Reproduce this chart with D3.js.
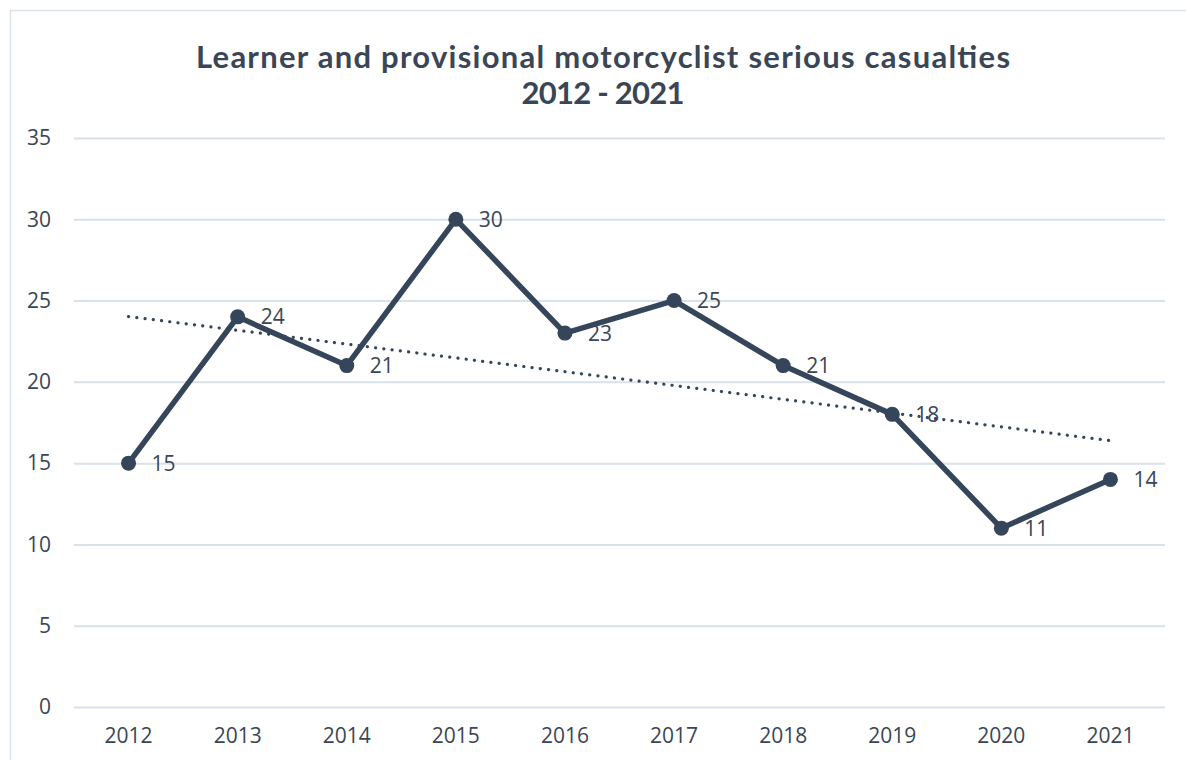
<!DOCTYPE html>
<html>
<head>
<meta charset="utf-8">
<script src="https://cdn.jsdelivr.net/npm/d3@7"></script>
<style>
  body { margin: 0; background: #fff; }
  svg { display: block; }
</style>
</head>
<body>
<svg id="chart"></svg>
<script>
// datos del gráfico
const anios = ["2012", "2013", "2014", "2015", "2016", "2017", "2018", "2019", "2020", "2021"];
const victimas = [15, 24, 21, 30, 23, 25, 21, 18, 11, 14];
const ticksY = [0, 5, 10, 15, 20, 25, 30, 35];
const titulo = ["Learner and provisional motorcyclist serious casualties", "2012 - 2021"];

const WIDTH = 1186;
const HEIGHT = 760;
const margins = { top: 138, bottom: 53, left: 74, right: 21 };
const colorOscuro = "#36465a";
const colorTexto = "#3a4656";

const svg = d3.select("#chart")
    .attr("width", WIDTH)
    .attr("height", HEIGHT);

// borde del área del gráfico
svg.append("rect")
    .attr("x", 10.5).attr("y", 10.5)
    .attr("width", WIDTH).attr("height", HEIGHT)
    .attr("fill", "none")
    .attr("stroke", "#d9e1ea")
    .attr("stroke-width", 1.5);

const escalaX = d3.scaleBand()
    .domain(anios)
    .range([margins.left, WIDTH - margins.right]);

const escalaY = d3.scaleLinear()
    .domain([0, 35])
    .range([HEIGHT - margins.bottom, margins.top]);

const cx = d => escalaX(d) + escalaX.bandwidth() / 2;

// líneas de grilla horizontales
svg.append("g")
    .attr("transform", `translate(${margins.left},0)`)
    .call(d3.axisLeft(escalaY).tickValues(ticksY).tickSize(-(WIDTH - margins.left - margins.right)).tickPadding(23))
    .call(g => g.select(".domain").remove())
    .call(g => g.selectAll("line").attr("stroke", "#d9e1ea").attr("stroke-width", 2))
    .call(g => g.selectAll("text").attr("fill", colorTexto).attr("font-size", 21).attr("font-family", "'Open Sans', sans-serif"));

// eje x con los años
svg.append("g")
    .attr("transform", `translate(0,${HEIGHT - margins.bottom})`)
    .call(d3.axisBottom(escalaX).tickSize(0).tickPadding(21))
    .call(g => g.select(".domain").remove())
    .call(g => g.selectAll("text").attr("fill", colorTexto).attr("font-size", 21).attr("font-family", "'Open Sans', sans-serif"));

// línea de tendencia (regresión lineal)
const idx = d3.range(victimas.length);
const mx = d3.mean(idx), my = d3.mean(victimas);
const pendiente = d3.sum(idx, i => (i - mx) * (victimas[i] - my)) / d3.sum(idx, i => (i - mx) ** 2);
const inter = my - pendiente * mx;
const tendencia = [0, victimas.length - 1].map(i => [cx(anios[i]), escalaY(inter + pendiente * i)]);

svg.append("path")
    .attr("d", d3.line()(tendencia))
    .attr("fill", "none")
    .attr("stroke", colorOscuro)
    .attr("stroke-width", 3.2)
    .attr("stroke-linecap", "round")
    .attr("stroke-dasharray", "0.1 8.2");

// serie principal
svg.append("path")
    .datum(victimas)
    .attr("d", d3.line().x((d, i) => cx(anios[i])).y(d => escalaY(d)))
    .attr("fill", "none")
    .attr("stroke", colorOscuro)
    .attr("stroke-width", 5.5)
    .attr("stroke-linejoin", "round");

svg.append("g")
    .selectAll("circle")
    .data(victimas)
    .join("circle")
    .attr("cx", (d, i) => cx(anios[i]))
    .attr("cy", d => escalaY(d))
    .attr("r", 7.5)
    .attr("fill", colorOscuro);

// etiquetas de valores
svg.append("g")
    .selectAll("text")
    .data(victimas)
    .join("text")
    .attr("x", (d, i) => cx(anios[i]) + 23)
    .attr("y", d => escalaY(d))
    .attr("dy", "0.36em")
    .attr("fill", colorTexto)
    .attr("font-size", 21)
    .attr("font-family", "'Open Sans', sans-serif")
    .text(d => d);

// título
const tituloG = svg.append("text")
    .attr("x", 603)
    .attr("y", 68)
    .attr("text-anchor", "middle")
    .attr("fill", colorTexto)
    .attr("font-size", 31)
    .attr("font-weight", "bold")
    .attr("font-family", "Lato, sans-serif");

tituloG.selectAll("tspan")
    .data(titulo)
    .join("tspan")
    .attr("x", 603)
    .attr("dy", (d, i) => i === 0 ? 0 : 36)
    .attr("textLength", (d, i) => i === 0 ? 814 : 163)
    .attr("lengthAdjust", "spacing")
    .text(d => d);
</script>
</body>
</html>
